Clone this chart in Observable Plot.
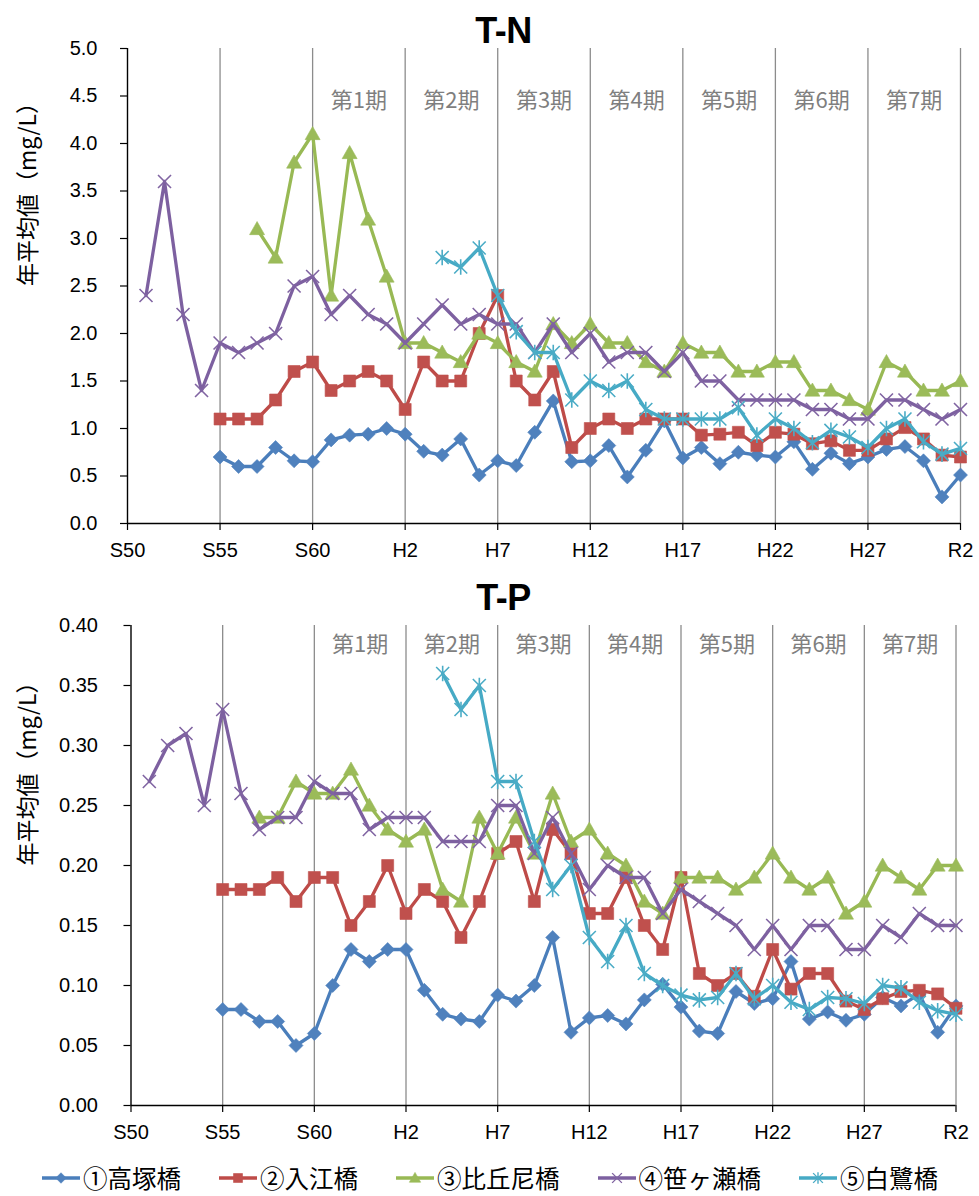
<!DOCTYPE html>
<html><head><meta charset="utf-8">
<script src="https://cdn.jsdelivr.net/npm/d3@7"></script>
<script src="https://cdn.jsdelivr.net/npm/@observablehq/plot@0.6"></script>
<style>
html,body{margin:0;padding:0;background:#fff;}
#wrap{position:relative;width:979px;height:1196px;overflow:hidden;font-family:"Liberation Sans","Noto Sans CJK JP",sans-serif;background:#fff;}
#wrap svg.plotsvg{position:absolute;left:0;}
.title{position:absolute;left:14px;width:979px;text-align:center;font-weight:bold;font-size:36px;line-height:36px;color:#000;z-index:2;letter-spacing:-0.5px;font-family:"Liberation Sans",sans-serif;}
#legend{position:absolute;left:42px;top:1162px;height:32px;display:flex;align-items:center;gap:38px;font-family:"Noto Sans CJK JP",sans-serif;font-size:24.5px;line-height:32px;color:#000;z-index:2;white-space:nowrap;}
.item{display:flex;align-items:center;gap:3px;}
</style></head><body><div id="wrap"></div>
<script>
// ---- categories / labels ----
const names = ["①高塚橋","②入江橋","③比丘尼橋","④笹ヶ瀬橋","⑤白鷺橋"];
const startYears = [1980, 1980, 1982, 1976, 1992];
const xTickYears = [1975,1980,1985,1990,1995,2000,2005,2010,2015,2020];
const xTickLabels = ["S50","S55","S60","H2","H7","H12","H17","H22","H27","R2"];
const gridYears = [1980,1985,1990,1995,2000,2005,2010,2015,2020];
const periodLabels = ["第1期","第2期","第3期","第4期","第5期","第6期","第7期"];
const periodMid = [1987.5,1992.5,1997.5,2002.5,2007.5,2012.5,2017.5];
const tnYTicks = [0,0.5,1,1.5,2,2.5,3,3.5,4,4.5,5];
const tpYTicks = [0,0.05,0.10,0.15,0.20,0.25,0.30,0.35,0.40];
const yTitle = "年平均値（mg/L）";

// ---- T-N values (mg/L) ----
const tnTakatsuka = [0.70,0.60,0.60,0.80,0.66,0.65,0.88,0.93,0.94,1.00,
  0.94,0.76,0.72,0.89,0.51,0.66,0.61,0.96,1.29,0.65,
  0.66,0.82,0.49,0.77,1.08,0.69,0.80,0.63,0.75,0.72,
  0.70,0.86,0.57,0.74,0.63,0.70,0.78,0.81,0.66,0.28,
  0.51];
const tnIrie = [1.1,1.1,1.1,1.3,1.6,1.7,1.4,1.5,1.6,1.5,
  1.2,1.7,1.5,1.5,2.0,2.4,1.5,1.3,1.6,0.8,
  1.0,1.1,1.0,1.1,1.1,1.1,0.93,0.94,0.96,0.82,
  0.96,0.94,0.84,0.87,0.77,0.77,0.89,1.01,0.89,0.72,
  0.70];
const tnBikuni = [3.1,2.8,3.8,4.1,2.4,3.9,3.2,2.6,
  1.9,1.9,1.8,1.7,2.0,1.9,1.7,1.6,2.1,1.9,
  2.1,1.9,1.9,1.7,1.6,1.9,1.8,1.8,1.6,1.6,
  1.7,1.7,1.4,1.4,1.3,1.2,1.7,1.6,1.4,1.4,
  1.5];
const tnSasagase = [2.4,3.6,2.2,1.4,
  1.9,1.8,1.9,2.0,2.5,2.6,2.2,2.4,2.2,2.1,
  1.9,2.1,2.3,2.1,2.2,2.1,2.1,1.8,2.1,1.8,
  2.0,1.7,1.8,1.8,1.6,1.8,1.5,1.5,1.3,1.3,
  1.3,1.3,1.2,1.2,1.1,1.1,1.3,1.3,1.2,1.1,
  1.2];
const tnShirasagi = [2.8,2.7,2.9,2.4,2.02,1.8,1.8,1.3,
  1.5,1.4,1.5,1.2,1.1,1.1,1.1,1.1,1.22,0.93,
  1.1,1.0,0.85,0.98,0.91,0.80,1.0,1.1,0.86,0.73,
  0.79];

// ---- T-P values (mg/L) ----
const tpTakatsuka = [0.080,0.080,0.070,0.070,0.050,0.060,0.100,0.130,0.120,0.130,
  0.130,0.096,0.076,0.072,0.070,0.092,0.087,0.100,0.140,0.061,
  0.073,0.075,0.068,0.088,0.101,0.082,0.062,0.060,0.095,0.085,
  0.089,0.120,0.072,0.078,0.071,0.076,0.090,0.083,0.093,0.061,
  0.083];
const tpIrie = [0.18,0.18,0.18,0.19,0.17,0.19,0.19,0.15,0.17,0.20,
  0.16,0.18,0.17,0.14,0.17,0.21,0.22,0.17,0.23,0.21,
  0.16,0.16,0.19,0.15,0.13,0.19,0.11,0.10,0.11,0.091,
  0.13,0.097,0.11,0.11,0.087,0.080,0.089,0.095,0.096,0.093,
  0.081];
const tpBikuni = [0.24,0.24,0.27,0.26,0.26,0.28,0.25,0.23,
  0.22,0.23,0.18,0.17,0.24,0.21,0.24,0.21,0.26,0.22,
  0.23,0.21,0.20,0.17,0.16,0.19,0.19,0.19,0.18,0.19,
  0.21,0.19,0.18,0.19,0.16,0.17,0.20,0.19,0.18,0.20,
  0.20];
const tpSasagase = [0.27,0.30,0.31,0.25,
  0.33,0.26,0.23,0.24,0.24,0.27,0.26,0.26,0.23,0.24,
  0.24,0.24,0.22,0.22,0.22,0.25,0.25,0.21,0.24,0.21,
  0.18,0.20,0.19,0.19,0.16,0.18,0.17,0.16,0.15,0.13,
  0.15,0.13,0.15,0.15,0.13,0.13,0.15,0.14,0.16,0.15,
  0.15];
const tpShirasagi = [0.36,0.33,0.35,0.27,0.27,0.22,0.18,0.20,
  0.14,0.12,0.15,0.11,0.10,0.092,0.088,0.090,0.11,0.089,
  0.10,0.086,0.080,0.090,0.089,0.085,0.10,0.098,0.086,0.079,
  0.076];

// ---- styles ----
const lineColors = ["#4A7EBB","#BE4B48","#98B954","#7D60A0","#46AAC5"];
const markColors = ["#4F81BD","#C0504D","#9BBB59","#8064A2","#4BACC6"];
const rad = s => Math.sqrt(s / Math.PI);
const symDiamond = {draw(c, s){const r = rad(s); c.moveTo(0,-r); c.lineTo(r,0); c.lineTo(0,r); c.lineTo(-r,0); c.closePath();}};
const symSquare = {draw(c, s){const r = rad(s); c.moveTo(-r,-r); c.lineTo(r,-r); c.lineTo(r,r); c.lineTo(-r,r); c.closePath();}};
const symTriangle = {draw(c, s){const r = rad(s); c.moveTo(0,-r); c.lineTo(r,r*0.75); c.lineTo(-r,r*0.75); c.closePath();}};
const symTimes = {draw(c, s){const r = rad(s); c.moveTo(-r,-r); c.lineTo(r,r); c.moveTo(-r,r); c.lineTo(r,-r);}};
const symStar = {draw(c, s){const r = rad(s); c.moveTo(-r,-r); c.lineTo(r,r); c.moveTo(-r,r); c.lineTo(r,-r); c.moveTo(0,-r*1.2); c.lineTo(0,r*1.2);}};
const symbols = [symDiamond, symSquare, symTriangle, symTimes, symStar];
const symR = [7, 6, 7.5, 6.5, 6.5];
const filled = [true, true, true, false, false];

const wrap = document.getElementById("wrap");

function makeChart(seriesVals, cfg) {
  const marks = [
    Plot.ruleX(gridYears, {stroke: "#8c8c8c", strokeWidth: 1.3}),
    Plot.text(periodLabels, {x: (d, i) => periodMid[i], text: d => d, frameAnchor: "top", dy: cfg.periodDy,
      fill: "#7f7f7f", fontSize: 22, fontFamily: "Noto Sans CJK JP"})
  ];
  seriesVals.forEach((arr, i) => {
    const data = arr.map((v, j) => ({year: startYears[i] + j, v}));
    marks.push(Plot.line(data, {x: "year", y: "v", stroke: lineColors[i], strokeWidth: 3.3, strokeLinejoin: "round"}));
    marks.push(Plot.dot(data, {x: "year", y: "v", symbol: symbols[i], r: symR[i],
      fill: filled[i] ? markColors[i] : "none", stroke: markColors[i], strokeWidth: filled[i] ? 0.6 : 1.6}));
  });
  marks.push(
    Plot.ruleX([1975], {stroke: "#000", strokeWidth: 1.4}),
    Plot.ruleY([cfg.yDomain[0]], {stroke: "#000", strokeWidth: 1.4}),
    Plot.axisY(cfg.yTicks, {tickSize: 7, tickPadding: cfg.yPad, tickFormat: d => d.toFixed(cfg.digits),
      fontSize: 20, label: null, stroke: "#000", fill: "#000", strokeWidth: 1.2}),
    Plot.axisX(xTickYears, {tickSize: 7, tickPadding: 12, tickFormat: d => xTickLabels[xTickYears.indexOf(d)],
      fontSize: 20, label: null, stroke: "#000", fill: "#000", strokeWidth: 1.2}),
    Plot.text([yTitle], {frameAnchor: "left", dx: cfg.titleDx, rotate: -90, fontSize: 23,
      fontFamily: "Noto Sans CJK JP", fill: "#000"})
  );
  const svg = Plot.plot({
    width: 979, height: cfg.height,
    marginLeft: cfg.ml, marginRight: cfg.mr, marginTop: cfg.mt, marginBottom: cfg.mb,
    x: {domain: [1975, 2020], axis: null},
    y: {domain: cfg.yDomain, axis: null},
    style: {fontFamily: "Liberation Sans, Noto Sans CJK JP, sans-serif", fontSize: "20px", color: "#000", background: "transparent", overflow: "visible"},
    marks
  });
  svg.classList.add("plotsvg");
  svg.style.top = cfg.top + "px";
  svg.style.position = "absolute";
  wrap.appendChild(svg);
}

makeChart([tnTakatsuka, tnIrie, tnBikuni, tnSasagase, tnShirasagi], {
  top: 0, height: 570, ml: 127, mr: 19, mt: 48, mb: 47,
  yDomain: [0, 5], yTicks: tnYTicks, digits: 1, periodDy: 44, yPad: 23, titleDx: -99
});
makeChart([tpTakatsuka, tpIrie, tpBikuni, tpSasagase, tpShirasagi], {
  top: 570, height: 580, ml: 130.5, mr: 23.5, mt: 55, mb: 45,
  yDomain: [0, 0.4], yTicks: tpYTicks, digits: 2, periodDy: 11, yPad: 26, titleDx: -102.5
});

// titles
[["T-N", 13], ["T-P", 580]].forEach(([t, top]) => {
  const d = document.createElement("div");
  d.className = "title"; d.textContent = t; d.style.top = top + "px";
  wrap.appendChild(d);
});

// legend
const legend = document.createElement("div");
legend.id = "legend";
names.forEach((n, i) => {
  const item = document.createElement("div");
  item.className = "item";
  const s = d3.create("svg").attr("width", 38).attr("height", 20);
  s.append("line").attr("x1", 0).attr("x2", 38).attr("y1", 10).attr("y2", 10)
    .attr("stroke", lineColors[i]).attr("stroke-width", 3.3);
  s.append("path").attr("transform", "translate(19,10)")
    .attr("d", d3.symbol(symbols[i], Math.PI * Math.pow(symR[i] * 0.75, 2))())
    .attr("fill", filled[i] ? markColors[i] : "none").attr("stroke", markColors[i])
    .attr("stroke-width", filled[i] ? 0.6 : 1.4);
  item.appendChild(s.node());
  const sp = document.createElement("span");
  sp.textContent = n;
  item.appendChild(sp);
  legend.appendChild(item);
});
wrap.appendChild(legend);
</script></body></html>
